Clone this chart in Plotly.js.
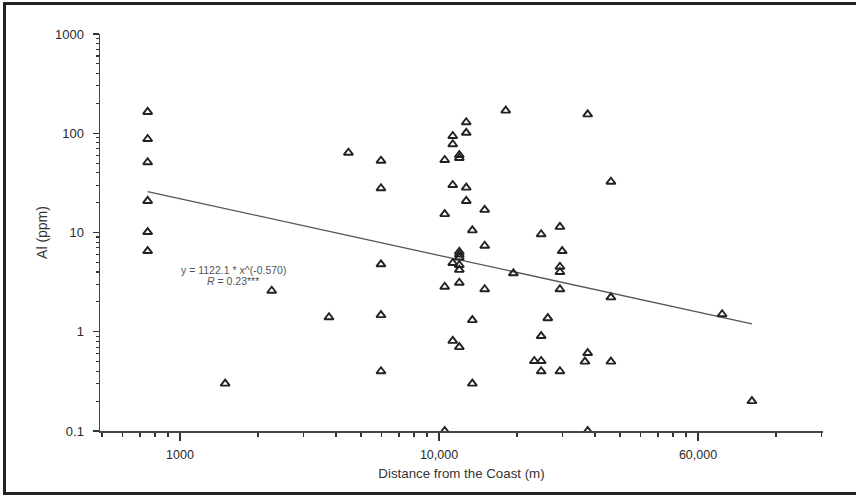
<!DOCTYPE html>
<html>
<head>
<meta charset="utf-8">
<script src="https://cdn.plot.ly/plotly-3.0.1.min.js"></script>
<style>
  html, body { margin: 0; padding: 0; background: #fff; }
  #wrap { position: relative; width: 856px; height: 495px; overflow: hidden; }
  #chart { position: absolute; left: 0; top: 0; width: 856px; height: 495px; }
  #frame { position: absolute; left: 3px; top: 2px; width: 900px; height: 487px;
           border-left: 3px solid #222; border-top: 3px solid #222; border-bottom: 3px solid #222;
           pointer-events: none; }
</style>
</head>
<body>
<div id="wrap"><div id="chart"></div><div id="frame"></div></div>
<script>
// Distance from the coast (m) and Al (ppm)
const distance = [
  750, 750, 750, 750, 750, 750,
  1494, 2260, 3760, 4470,
  5970, 5970, 5970, 5970, 5970,
  10520, 10520, 10520, 10520,
  11300, 11300, 11300, 11300, 11300,
  11980, 11980, 11980, 11980, 11980, 11980, 11980, 11980, 11980,
  12740, 12740, 12740, 12740,
  13450, 13450, 13450,
  15010, 15010, 15010,
  18100, 19370, 23340,
  24800, 24800, 24800, 24800,
  26300,
  29300, 29300, 29300, 29300, 29300,
  29900, 36600,
  37500, 37500, 37500,
  46100, 46100, 46100,
  123900, 161500
];
const al = [
  164, 87.5, 51, 20.8, 10.1, 6.5,
  0.30, 2.59, 1.40, 63.7,
  52.9, 27.9, 4.78, 1.47, 0.40,
  53.8, 15.3, 2.84, 0.10,
  93.8, 77.4, 30.1, 4.93, 0.81,
  60.4, 56.3, 6.4, 6.0, 5.6, 4.7, 4.2, 3.12, 0.70,
  129, 101, 28.3, 20.8,
  10.5, 1.31, 0.30,
  16.9, 7.36, 2.68,
  169, 3.88, 0.507,
  9.6, 0.905, 0.507, 0.40,
  1.37,
  11.4, 4.52, 4.0, 2.68, 0.40,
  6.5, 0.50,
  155, 0.61, 0.10,
  32.5, 2.22, 0.50,
  1.50, 0.20
];
// fitted power-law line end points
const fitX = [750, 161500];
const fitY = [25.8, 1.20];

const xTickVals = [1000, 10000, 100000];
const xTickText = ["1000", "10,000", "60,000"];
const yTickVals = [0.1, 1, 10, 100, 1000];
const yTickText = ["0.1", "1", "10", "100", "1000"];

function minorTicks(lo, hi) {
  const out = [];
  for (let d = lo; d < hi; d++) {
    for (let m = 2; m <= 9; m++) out.push(m * Math.pow(10, d));
  }
  return out;
}

const traces = [
  {
    x: fitX, y: fitY, type: 'scatter', mode: 'lines',
    line: { color: '#555', width: 1.3 }, hoverinfo: 'skip'
  },
  {
    x: distance, y: al, type: 'scatter', mode: 'markers',
    marker: { symbol: 'triangle-up-open', size: 8, color: '#222', line: { width: 1.9, color: '#222' } }
  }
];

const axisFont = { family: 'Arial, "Liberation Sans", sans-serif', color: '#2a2a2a' };

const layout = {
  width: 856, height: 495,
  margin: { l: 100, r: 33, t: 34, b: 64 },
  paper_bgcolor: '#fff', plot_bgcolor: '#fff',
  showlegend: false,
  font: axisFont,
  xaxis: {
    type: 'log',
    range: [3 - 80 / 259, 3 + 643 / 259],
    tickmode: 'array', tickvals: xTickVals, ticktext: xTickText,
    ticks: 'outside', ticklen: 8, tickwidth: 1.4, tickcolor: '#333',
    minor: { tickmode: 'array', tickvals: minorTicks(2, 6), ticks: 'outside', ticklen: 4, tickwidth: 1.4, tickcolor: '#333', showgrid: false },
    showline: true, linecolor: '#444', linewidth: 1.5,
    showgrid: false, zeroline: false,
    tickfont: { size: 12.5, color: '#2a2a2a' },
    ticklabelstandoff: 3,
    title: { text: 'Distance from the Coast (m)', font: { size: 13.3, color: '#333' }, standoff: 8 }
  },
  yaxis: {
    type: 'log',
    range: [-1, 3],
    tickmode: 'array', tickvals: yTickVals, ticktext: yTickText,
    ticks: 'outside', ticklen: 6, tickwidth: 1.4, tickcolor: '#333',
    minor: { tickmode: 'array', tickvals: minorTicks(-1, 3), ticks: 'outside', ticklen: 3, tickwidth: 1.1, tickcolor: '#333', showgrid: false },
    showline: true, linecolor: '#444', linewidth: 1.5,
    showgrid: false, zeroline: false,
    tickfont: { size: 13, color: '#2a2a2a' },
    ticklabelstandoff: 6,
    title: { text: 'Al (ppm)', font: { size: 14, color: '#333' }, standoff: 4 }
  },
  annotations: [
    { xref: 'x', yref: 'y', x: 3.205, y: 0.622, text: 'y = 1122.1 * x^(-0.570)', showarrow: false,
      font: { size: 10.5, color: '#555' }, xanchor: 'center', yanchor: 'middle' },
    { xref: 'x', yref: 'y', x: 3.205, y: 0.516, text: '<i>R</i> = 0.23***', showarrow: false,
      font: { size: 10.5, color: '#555' }, xanchor: 'center', yanchor: 'middle' }
  ]
};

Plotly.newPlot('chart', traces, layout, { staticPlot: true, displayModeBar: false });
</script>
</body>
</html>
